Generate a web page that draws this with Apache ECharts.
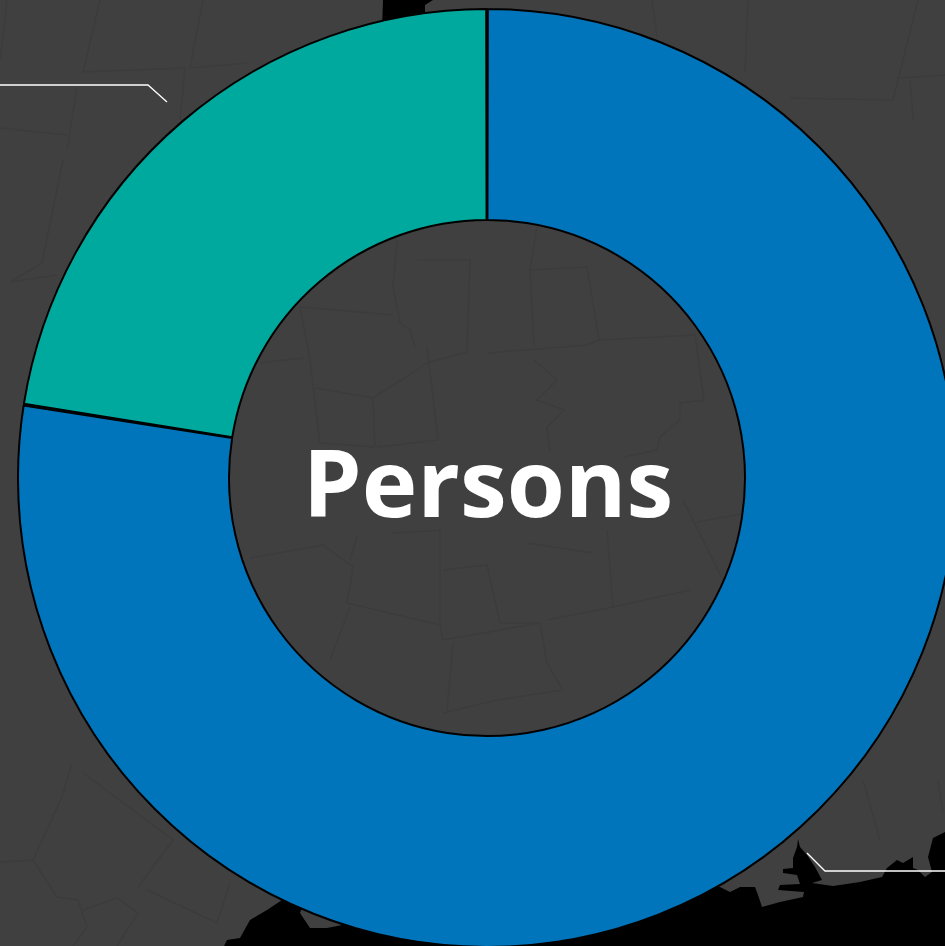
<!DOCTYPE html>
<html>
<head>
<meta charset="utf-8">
<style>html,body{margin:0;padding:0;background:#404040;overflow:hidden}#c{width:945px;height:946px}</style>
<script src="https://cdn.jsdelivr.net/npm/echarts@6/dist/echarts.min.js"></script>
</head>
<body>
<div id="c"></div>
<script>
var categories = ['Group A', 'Group B'];
var values = [77.5, 22.5];
var centerLabel = 'Persons';
var sliceColors = ['#0075BB', '#00A99D'];

// Backdrop map (decoration only, not data)
var seaShapes = [
  [[945,832],[933,838],[928,857],[932,872],[925,877],[918,870],[913,868],[913,857],[903,863],[897,860],[887,868],[882,877],[860,882],[833,886],[812,883],[822,880],[815,867],[807,855],[800,847],[798,839],[797,847],[793,858],[793,868],[783,869],[783,873],[797,875],[800,884],[780,885],[778,890],[804,892],[803,897],[780,902],[762,907],[758,895],[755,887],[740,887],[730,892],[720,887],[700,880],[700,946],[945,946]],
  [[700,946],[700,880],[342,925],[327,928],[310,928],[300,913],[305,900],[282,895],[282,900],[267,910],[250,920],[240,938],[227,940],[224,946]],
  [[383,0],[382,30],[425,30],[425,5],[433,0]]
];
var borderLines = [
  [[397,240],[393,287],[400,323],[410,330],[415,348]],
  [[300,307],[313,308],[393,315]],
  [[300,307],[310,360],[320,443],[375,447]],
  [[260,363],[303,358]],
  [[315,388],[373,398],[417,370],[427,363],[467,352],[470,260],[417,260]],
  [[373,398],[375,447]],
  [[427,347],[438,440],[377,447]],
  [[487,353],[587,345],[599,340],[695,335],[704,400]],
  [[587,267],[599,340]],
  [[537,227],[530,270],[587,267]],
  [[530,270],[534,347]],
  [[534,360],[557,380],[537,400],[564,410],[547,427],[550,453]],
  [[704,400],[680,403],[680,420],[660,437],[657,450],[624,457]],
  [[250,558],[323,545],[353,567],[347,603],[440,625],[443,640],[540,623]],
  [[357,537],[350,560]],
  [[393,533],[440,530],[440,570],[440,625]],
  [[443,570],[487,565],[500,623],[540,623],[547,663],[563,690],[497,700],[443,713]],
  [[453,643],[447,710]],
  [[547,620],[613,607],[690,590]],
  [[607,530],[613,607]],
  [[527,543],[593,553]],
  [[350,607],[330,660]],
  [[683,500],[723,580]],
  [[697,522],[747,513]],
  [[100,0],[83,72],[185,68],[180,120]],
  [[77,87],[67,150]],
  [[203,0],[190,68],[247,63]],
  [[7,0],[0,60]],
  [[0,128],[67,135]],
  [[652,0],[657,37]],
  [[748,0],[745,73]],
  [[918,0],[893,100],[790,98]],
  [[897,78],[945,75]],
  [[910,80],[913,120]],
  [[63,160],[42,263],[10,282]],
  [[10,282],[57,275]],
  [[0,862],[33,860],[62,797],[72,763]],
  [[33,860],[57,897],[78,900],[87,927],[73,946]],
  [[83,910],[117,898],[138,913],[117,946]],
  [[138,887],[173,840],[83,773]],
  [[147,890],[217,923],[230,883]],
  [[863,780],[880,840]],
  [[938,780],[943,813]]
];
var leaderLines = [
  [[0,85],[148,85],[167,102]],
  [[807,853],[825,871],[945,871]]
];

var graphics = [];
seaShapes.forEach(function (p) {
  graphics.push({type:'polygon', silent:true, z:0, shape:{points:p}, style:{fill:'#000000'}});
});
borderLines.forEach(function (p) {
  graphics.push({type:'polyline', silent:true, z:1, shape:{points:p}, style:{fill:null, stroke:'#3c3c3c', lineWidth:1.5}});
});
leaderLines.forEach(function (p) {
  graphics.push({type:'polyline', silent:true, z:1, shape:{points:p}, style:{fill:null, stroke:'#ffffff', lineWidth:1.3}});
});

var chart = echarts.init(document.getElementById('c'), null, {renderer:'canvas'});
chart.setOption({
  animation:false,
  backgroundColor:'#404040',
  title:{
    text:centerLabel,
    left:483, top:485,
    textAlign:'center', textVerticalAlign:'middle',
    textStyle:{color:'#ffffff', fontFamily:'"Open Sans"', fontWeight:'bold', fontSize:94, lineHeight:94}
  },
  graphic:graphics,
  series:[{
    type:'pie',
    center:[487,478],
    radius:[258,469],
    startAngle:90,
    clockwise:true,
    padAngle:0.2,
    silent:true,
    label:{show:false},
    labelLine:{show:false},
    itemStyle:{borderColor:'#000000', borderWidth:2},
    data:categories.map(function (c,i) {
      return {name:c, value:values[i], itemStyle:{color:sliceColors[i]}};
    })
  }]
});
</script>
</body>
</html>
